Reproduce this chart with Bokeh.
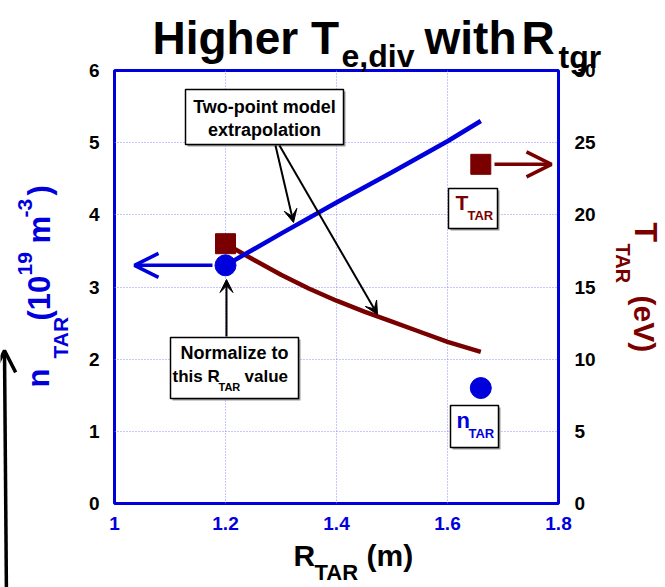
import math
from bokeh.plotting import figure
from bokeh.models import (Range1d, LinearAxis, FixedTicker, Label, Arrow, OpenHead,
                          VeeHead, BoxAnnotation, CustomJSTickFormatter, GridBox)
from bokeh.embed import file_html
from bokeh.resources import INLINE

# ---------------- data ----------------
r_ticks = [1.0, 1.2, 1.4, 1.6, 1.8]
n_ticks = [0, 1, 2, 3, 4, 5, 6]
t_ticks = [0, 5, 10, 15, 20, 25, 30]

r_n_model = [1.2, 1.3, 1.4, 1.5, 1.6, 1.66]
n_model = [3.3, 3.74, 4.17, 4.59, 5.02, 5.3]
r_t_model = [1.2, 1.25, 1.3, 1.35, 1.4, 1.45, 1.5, 1.55, 1.6, 1.66]
t_model = [18.0, 16.9, 15.85, 14.9, 14.05, 13.3, 12.6, 11.9, 11.2, 10.5]

r_meas = [1.2, 1.66]
n_meas = [3.3, 1.6]
t_meas = [18.0, 23.5]

BLUE = "#0000dd"
DRED = "#7a0000"
FONT = "Liberation Sans"

XMIN, XMAX, YMIN, YMAX = 1.0, 1.8, 0.0, 6.0
# page pixel position of the plot frame
FL, FR, FT, FB = 114, 558, 70, 503
W, H = 665, 587
K = 0.38  # baseline correction (fraction of font size)


def X(px):
    return XMIN + (px - FL) / (FR - FL) * (XMAX - XMIN)


p = figure(width=W, height=H, output_backend="svg", toolbar_location=None, title=None,
           tools="", x_range=Range1d(XMIN, XMAX), y_range=Range1d(YMIN, YMAX),
           min_border_left=FL, min_border_right=W - FR, min_border_top=FT,
           min_border_bottom=H - FB)
p.extra_y_ranges = {"t": Range1d(0, 30)}
p.background_fill_color = "white"
p.border_fill_color = "white"
p.outline_line_color = BLUE
p.outline_line_width = 3

# axes
xa = p.xaxis[0]
xa.ticker = FixedTicker(ticks=r_ticks)
xa.formatter = CustomJSTickFormatter(code="return String(Math.round(tick*10)/10)")
ya = p.yaxis[0]
ya.ticker = FixedTicker(ticks=n_ticks)
ra = LinearAxis(y_range_name="t", ticker=FixedTicker(ticks=t_ticks))
p.add_layout(ra, "right")
for ax, col, so in ((xa, BLUE, 7), (ya, "black", 9), (ra, "black", 10)):
    ax.axis_line_color = None
    ax.major_tick_line_color = None
    ax.minor_tick_line_color = None
    ax.major_label_text_color = col
    ax.major_label_text_font = FONT
    ax.major_label_text_font_style = "bold"
    ax.major_label_text_font_size = "19px"
    ax.major_label_standoff = so

for g, tk in ((p.xgrid[0], r_ticks), (p.ygrid[0], n_ticks)):
    g.ticker = FixedTicker(ticks=tk)
    g.grid_line_color = "#8c8cff"
    g.grid_line_dash = "1 2"
    g.grid_line_width = 1

# ---------------- data marks ----------------
p.line(r_t_model, t_model, y_range_name="t", line_color=DRED, line_width=4.5)
p.scatter(r_meas, t_meas, y_range_name="t", marker="square", size=20,
          fill_color=DRED, line_color=DRED)
p.line(r_n_model, n_model, line_color=BLUE, line_width=4.5)
p.scatter(r_meas, n_meas, marker="circle", size=21, fill_color=BLUE, line_color=BLUE)

# axis-direction arrows
p.add_layout(Arrow(end=OpenHead(size=24, line_color=BLUE, line_width=3.5),
                   x_start=X(212), y_start=n_meas[0], x_end=X(134), y_end=n_meas[0],
                   line_color=BLUE, line_width=3.5))
p.add_layout(Arrow(end=OpenHead(size=25, line_color=DRED, line_width=3.5),
                   x_start=X(494), y_start=t_meas[1], x_end=X(551), y_end=t_meas[1],
                   y_range_name="t", line_color=DRED, line_width=3.5))

# ---------------- transparent overlay for texts / callouts (page pixels) ----------
ov = figure(width=W, height=H, output_backend="svg", toolbar_location=None, title=None,
            tools="", x_range=Range1d(0, W), y_range=Range1d(H, 0),
            x_axis_location=None, y_axis_location=None,
            min_border_left=0, min_border_right=0, min_border_top=0, min_border_bottom=0)
ov.grid.visible = False
ov.outline_line_color = None
ov.background_fill_alpha = 0
ov.border_fill_alpha = 0
for fig in (p, ov):
    try:
        fig.frame_align = False
    except Exception:
        pass


def box(l, t, r, b):
    ov.add_layout(BoxAnnotation(left=l + 2, right=r + 2, top=t + 2, bottom=b + 2,
                                fill_color="#9a9a9a", fill_alpha=1, line_color=None))
    ov.add_layout(BoxAnnotation(left=l, right=r, top=t, bottom=b,
                                fill_color="white", fill_alpha=1, line_color="black",
                                line_width=1.5, line_alpha=1))


def lab(text, px, py, size, color="black", angle=0.0, align="left", font=FONT):
    if angle > 0.1:
        px = px - K * size
    elif angle < -0.1:
        px = px + K * size
    else:
        py = py - K * size
    ov.add_layout(Label(x=px, y=py, text=text, text_font=font,
                        text_font_size=f"{size}px", text_font_style="bold",
                        text_color=color, angle=angle, text_align=align,
                        text_baseline="alphabetic"))


def blk_arrow(x0, y0, x1, y1):
    ov.add_layout(Arrow(end=VeeHead(size=13, fill_color="black", line_color="black"),
                        x_start=x0, y_start=y0, x_end=x1, y_end=y1,
                        line_color="black", line_width=2))


# annotation boxes
box(185, 89, 343, 144)
lab("Two-point model", 264, 113, 18, align="center")
lab("extrapolation", 264, 136, 18, align="center")
blk_arrow(275, 145, 293, 222)
blk_arrow(279, 145, 377, 314)

box(170, 337, 298, 398)
lab("Normalize to", 234, 359, 18, align="center")
lab("this R", 172, 382, 17)
lab("TAR", 218, 391, 11)
lab("value", 244, 382, 17)
blk_arrow(226, 336, 226, 279)

box(448, 188, 497, 228)
lab("T", 455, 210, 21, color=DRED)
lab("TAR", 467, 220, 13, color=DRED)

box(450, 405, 498, 447)
lab("n", 456, 428, 22, color=BLUE)
lab("TAR", 468, 438, 13, color=BLUE)

# title
lab("Higher T", 152, 55, 46)
lab("e,div", 341, 68, 32)
lab("with", 424, 55, 46)
lab("R", 521, 55, 46)
lab("tgr", 558, 69, 32)

# x axis title
lab("R", 293, 566, 30)
lab("TAR", 314, 580, 22)
lab("(m)", 366, 566, 30)

# left axis title (rotated, reads upward)
up = math.pi / 2
lab("n", 50, 387, 31, color=BLUE, angle=up)
lab("TAR", 68, 358, 21, color=BLUE, angle=up)
lab("(10", 51, 320, 31, color=BLUE, angle=up)
lab("19", 32, 275, 21, color=BLUE, angle=up)
lab("m", 51, 243, 31, color=BLUE, angle=up)
lab("-3", 32, 217, 21, color=BLUE, angle=up)
lab(")", 51, 195, 31, color=BLUE, angle=up)

# right axis title (rotated, reads downward)
dn = -math.pi / 2
lab("T", 633, 222, 32, color=DRED, angle=dn)
lab("TAR", 615, 243, 20, color=DRED, angle=dn)
lab("(eV)", 633, 295, 30, color=DRED, angle=dn)

# partial slide arrow at the left edge
ov.add_layout(Arrow(end=OpenHead(size=22, line_color="black", line_width=3.5),
                    x_start=6, y_start=600, x_end=4, y_end=350,
                    line_color="black", line_width=3.5))

layout = GridBox(children=[(p, 0, 0), (ov, 0, 0)])
open("out.html", "w").write(file_html(layout, INLINE))
